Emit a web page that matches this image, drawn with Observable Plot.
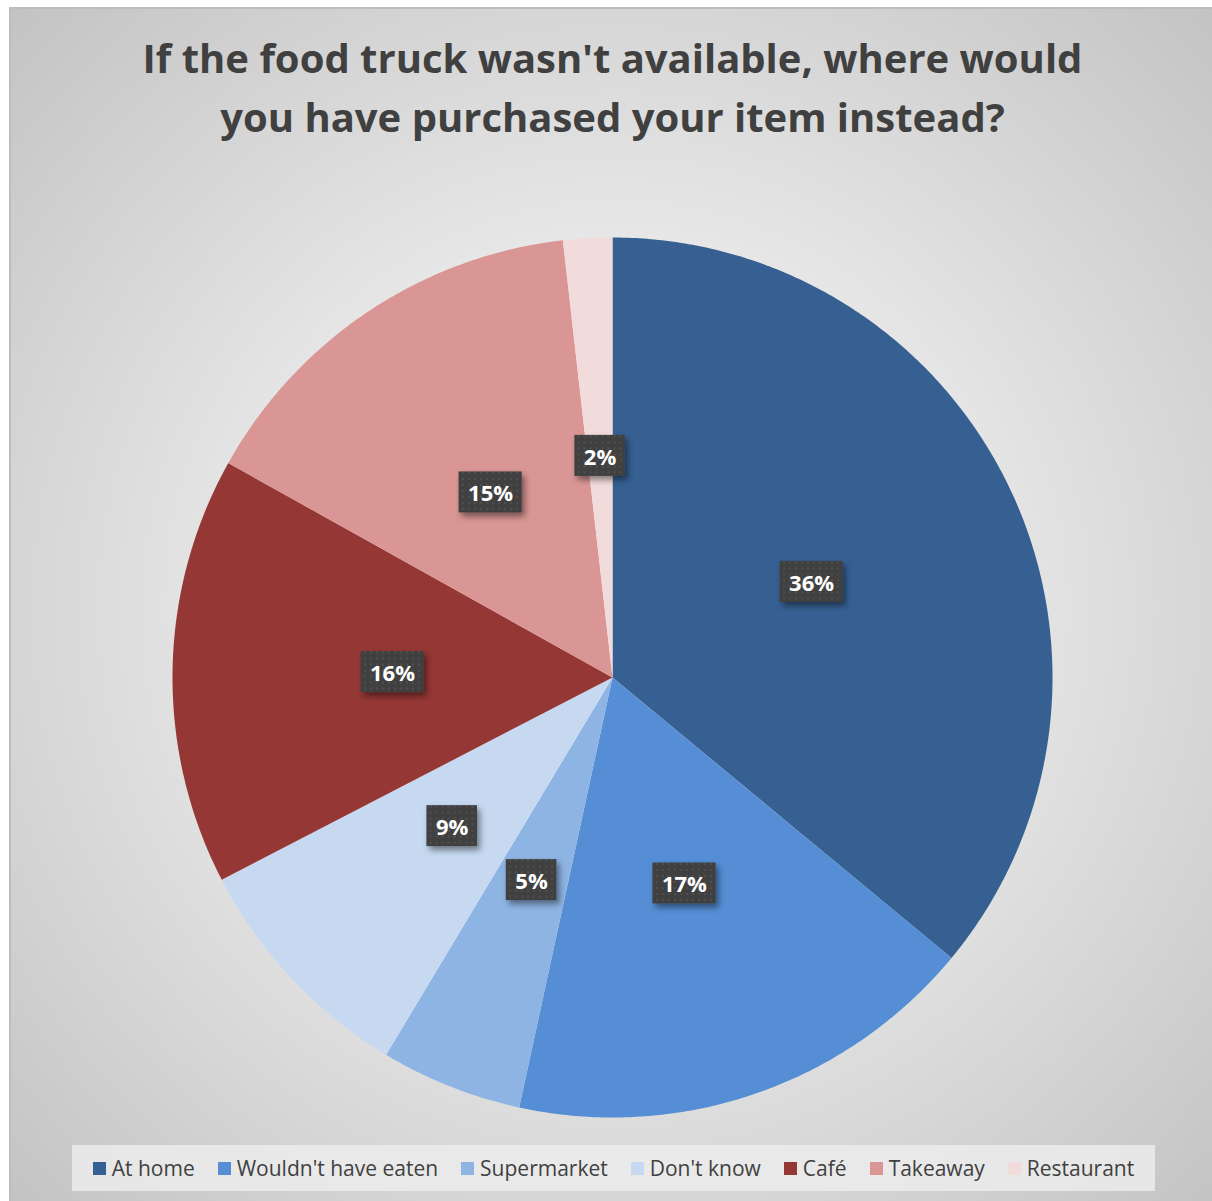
<!DOCTYPE html>
<html>
<head>
<meta charset="utf-8">
<script src="https://cdn.jsdelivr.net/npm/d3@7"></script>
<script src="https://cdn.jsdelivr.net/npm/@observablehq/plot@0.6"></script>
<style>
  html, body { margin: 0; padding: 0; background: #ffffff; width: 1212px; height: 1201px; overflow: hidden; }
  #frame {
    position: absolute; left: 9px; top: 7px; width: 1210px; height: 1200px;
    border-left: 2px solid #bdbdbd; border-top: 2px solid #bdbdbd;
    background: radial-gradient(circle farthest-corner at 50% 50%, #f7f7f7 0%, #e9e9e9 40%, #c3c3c3 100%);
    font-family: "Open Sans", sans-serif;
  }
  #title {
    position: absolute; left: 0; top: 19px; width: 1203px; text-align: center;
    font-weight: 700; font-size: 40px; line-height: 59px; color: #404040;
  }
  #chart { position: absolute; left: 92px; top: 161px; }
  #legend {
    position: absolute; left: 61px; top: 1136px; width: 1083px; height: 46px;
    background: rgba(236,236,236,0.85);
    display: flex; align-items: center; justify-content: center; gap: 23px;
    font-size: 21px; color: #404040;
  }
  .li { display: flex; align-items: center; gap: 6px; white-space: nowrap; }
  .sw { width: 13px; height: 13px; display: inline-block; }
</style>
</head>
<body>
<div id="frame">
  <div id="title">If the food truck wasn't available, where would<br>you have purchased your item instead?</div>
  <div id="chart"></div>
  <div id="legend"></div>
</div>
<script>
const categories = ["At home", "Wouldn't have eaten", "Supermarket", "Don't know", "Café", "Takeaway", "Restaurant"];
const values = [36.0, 17.4, 5.2, 8.8, 15.7, 15.1, 1.8];
const colors = ["#366092", "#558ED5", "#8EB4E3", "#C6D9F1", "#953735", "#D99694", "#F2DCDB"];

const arcs = d3.pie().sort(null).value(d => d.value)(categories.map((c, i) => ({category: c, value: values[i]})));

// slice outlines (center + arc points)
const slicePts = [];
for (const a of arcs) {
  const c = a.data.category;
  slicePts.push({category: c, x: 0, y: 0});
  const n = Math.max(2, Math.ceil((a.endAngle - a.startAngle) / (Math.PI / 360)));
  for (let k = 0; k <= n; k++) {
    const t = a.startAngle + (a.endAngle - a.startAngle) * k / n;
    slicePts.push({category: c, x: Math.sin(t), y: Math.cos(t)});
  }
}
const total = d3.sum(values);
const labels = arcs.map(a => {
  const m = (a.startAngle + a.endAngle) / 2;
  return {category: a.data.category, pct: Math.round(a.data.value / total * 100), x: 0.5 * Math.sin(m), y: 0.5 * Math.cos(m)};
});

const plot = Plot.plot({
  width: 1018, height: 1014,
  marginLeft: 69, marginRight: 69, marginTop: 67, marginBottom: 67,
  x: {domain: [-1, 1], axis: null},
  y: {domain: [-1, 1], axis: null},
  color: {domain: categories, range: colors},
  style: {background: "transparent", overflow: "visible"},
  marks: [
    Plot.line(slicePts, {x: "x", y: "y", z: "category", fill: "category", stroke: "none", curve: "linear-closed"}),
    Plot.text(labels, {x: "x", y: "y", text: d => d.pct + "%", fill: "white", fontSize: 22, fontWeight: "bold", fontFamily: "Open Sans"})
  ]
});
document.getElementById("chart").appendChild(plot);

// label boxes
const svg = d3.select(plot);
const defs = svg.insert("defs", ":first-child");
const pat = defs.append("pattern").attr("id", "dots").attr("patternUnits", "userSpaceOnUse").attr("width", 6).attr("height", 6);
pat.append("rect").attr("width", 6).attr("height", 6).attr("fill", "#404040");
pat.append("circle").attr("cx", 3).attr("cy", 3).attr("r", 1.1).attr("fill", "#525252");
const flt = defs.append("filter").attr("id", "shadow").attr("x", "-30%").attr("y", "-30%").attr("width", "160%").attr("height", "160%");
flt.append("feDropShadow").attr("dx", 3).attr("dy", 4).attr("stdDeviation", 3).attr("flood-color", "#000").attr("flood-opacity", 0.45);

const textG = plot.querySelector('g[aria-label="text"]');
const boxG = svg.insert("g", () => textG);
textG.querySelectorAll("text").forEach(t => {
  const b = t.getBBox();
  const tr = t.getAttribute("transform");
  const cy = b.y + b.height / 2;
  boxG.append("rect")
    .attr("x", b.x - 9).attr("y", cy - 20.5)
    .attr("width", b.width + 18).attr("height", 41)
    .attr("transform", tr)
    .attr("fill", "url(#dots)")
    .attr("filter", "url(#shadow)");
});

// legend
const leg = d3.select("#legend");
categories.forEach((c, i) => {
  const it = leg.append("div").attr("class", "li");
  it.append("span").attr("class", "sw").style("background", colors[i]);
  it.append("span").text(c);
});
</script>
</body>
</html>
